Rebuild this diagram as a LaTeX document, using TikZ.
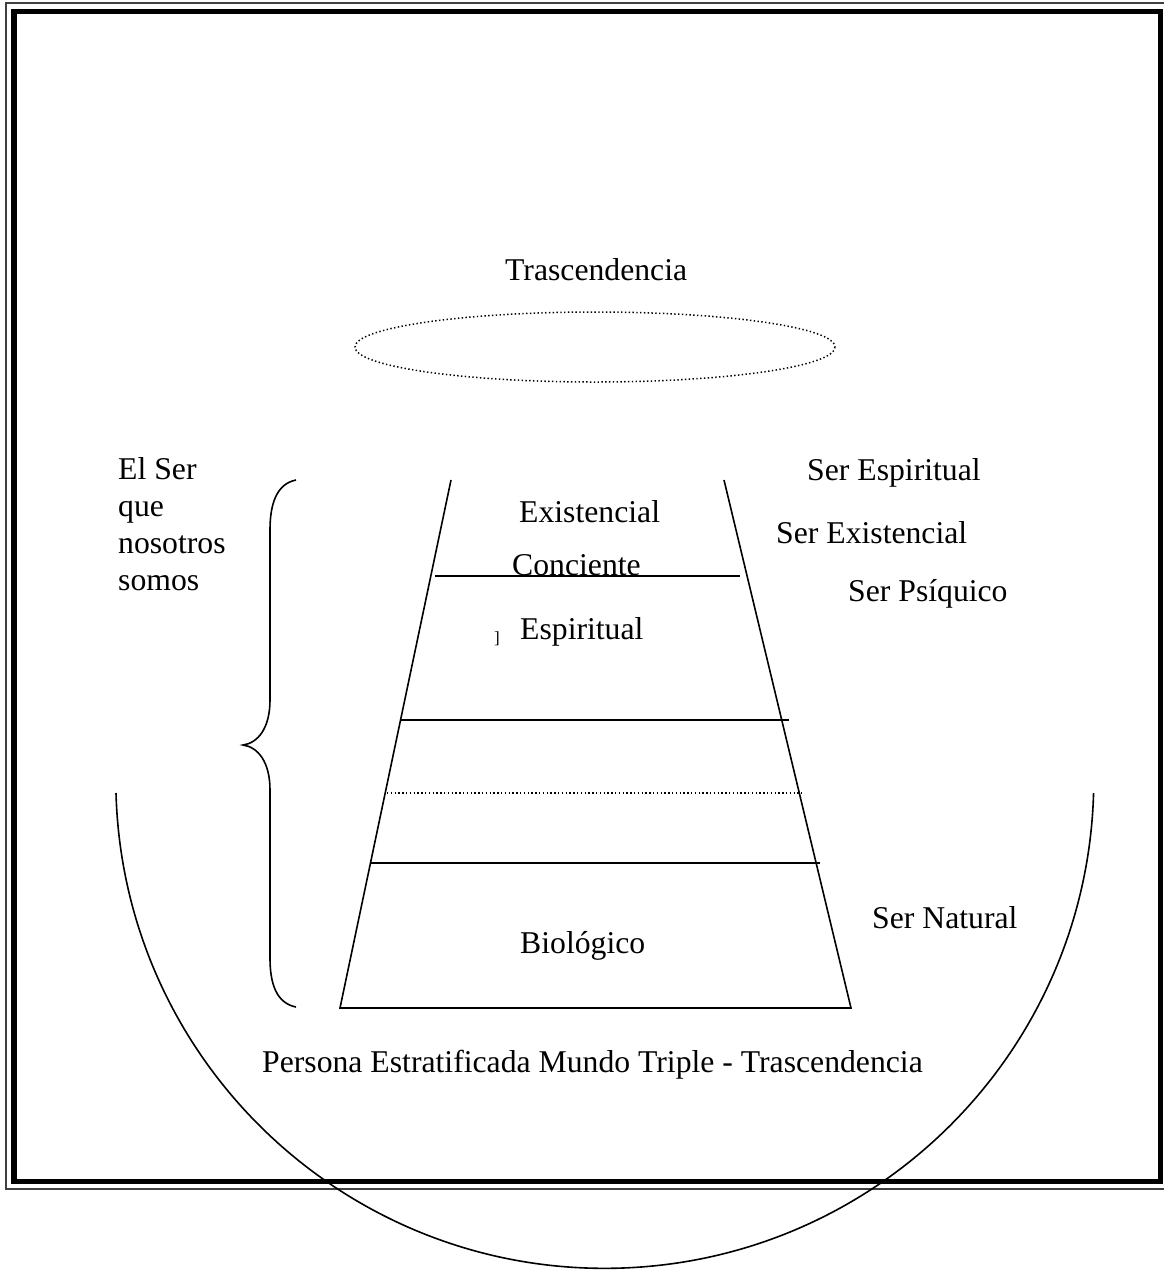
\documentclass[tikz,border=0pt]{standalone}
\usepackage{fontspec}
\setmainfont{Liberation Serif}
\begin{document}
\begin{tikzpicture}[x=1pt,y=-1pt,
  lbl/.style={anchor=base west,inner sep=0pt,font=\fontsize{31.7}{38}\selectfont},
  ln/.style={line width=1.6pt},
  dotln/.style={line width=1.5pt,dash pattern=on 1.4pt off 2.4pt}]
\useasboundingbox (0,0) rectangle (1163,1270);
% frame
\draw[line width=1.3pt,black!75] (6,3) rectangle (1172,1189);
\draw[line width=5.5pt] (14,11.5) rectangle (1160.5,1181.5);
% big circle arc
\draw[ln] (116,793) arc[start angle=178.4,end angle=1.6,radius=489];
% ellipse
\draw[dotln] (595,347) ellipse[x radius=240,y radius=35];
% trapezoid
\coordinate (tl) at (451,480);
\coordinate (tr) at (724,480);
\coordinate (bl) at (340,1008);
\coordinate (br) at (851,1008);
\draw[ln] (tl) -- (bl) -- (br) -- (tr);
\draw[ln] (435,576) -- (740,576);
\draw[ln] (401,720) -- (789,720);
\draw[dotln,line width=1.2pt] (387,793) -- (802,793);
\draw[ln] (370,863) -- (820,863);
% brace
\draw[ln] (296,480) .. controls (276,484) and (270,505) .. (270,530)
  -- (270,700) .. controls (270,728) and (258,743) .. (243,745)
  .. controls (258,747) and (270,762) .. (270,790)
  -- (270,958) .. controls (270,983) and (276,1003) .. (296,1007);
% texts
\node[lbl] (tras) at (505,280) {Trascendencia};
\node[lbl] (s1) at (118,479) {El Ser};
\node[lbl] (s2) at (118,516) {que};
\node[lbl] (s3) at (118,553) {nosotros};
\node[lbl] (s4) at (118,590) {somos};
\node[lbl] (sesp) at (807,480) {Ser Espiritual};
\node[lbl] (sexi) at (776,543) {Ser Existencial};
\node[lbl] (spsi) at (848,601) {Ser Psíquico};
\node[lbl] (exi) at (519,522) {Existencial};
\node[lbl] (con) at (512,575) {Conciente};
\node[lbl] (esp) at (520,639) {Espiritual};
\node[anchor=base west,inner sep=0pt,font=\fontsize{17}{20}\selectfont] (br1) at (494,643) {]};
\node[lbl] (bio) at (520,953) {Biológico};
\node[lbl] (snat) at (872,928) {Ser Natural};
\node[lbl] (pers) at (262,1072) {Persona Estratificada Mundo Triple - Trascendencia};
\end{tikzpicture}
\end{document}
